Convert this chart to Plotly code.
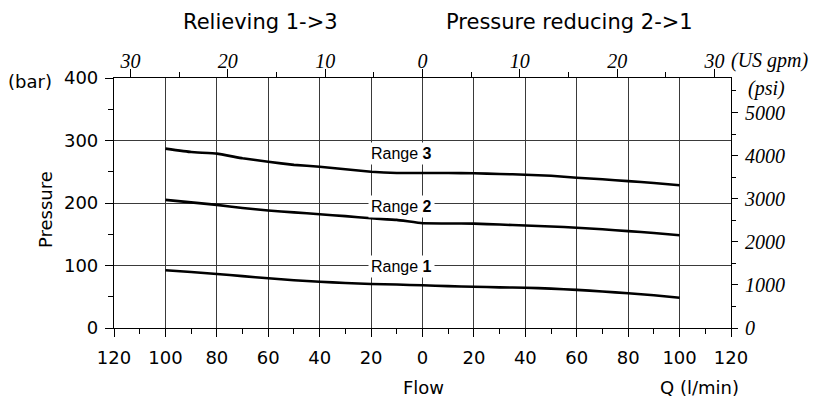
import plotly.graph_objects as go

# ---- data ----
flow = [-100, -90, -80, -70, -60, -50, -40, -30, -20, -10, 0, 10, 20, 30, 40, 50, 60, 70, 80, 90, 100]
range3 = [287, 281.5, 279, 271.5, 266, 261, 258, 254, 250, 248, 248, 248, 247.5, 246.5, 245.3, 243.5, 240.5, 238, 235, 232, 228.5]
range2 = [205, 201, 197, 192, 188, 185, 182, 179, 175.5, 173, 167.5, 167.3, 167, 165.5, 164, 162.5, 160.5, 158, 155, 152, 148.5]
range1 = [92.5, 89.5, 86.5, 83, 79.5, 76.5, 74, 72, 70.5, 69.5, 68.3, 67, 66, 65, 64.5, 63, 61, 58.5, 55.5, 52.5, 48.5]
range_names = ["1", "2", "3"]
range_label_y = [98, 195, 280]

x_ticks = [-120, -100, -80, -60, -40, -20, 0, 20, 40, 60, 80, 100, 120]
x_ticktext = ["120", "100", "80", "60", "40", "20", "0", "20", "40", "60", "80", "100", "120"]
gpm_ticks = [-30, -20, -10, 0, 10, 20, 30]
gpm_ticktext = ["30", "20", "10", "0", "10", "20", "30"]
psi_ticks = [0, 1000, 2000, 3000, 4000, 5000]
LPM_PER_GPM = 3.78541
PSI_PER_BAR = 14.5038

W, H = 829, 401
L, R, T, B = 114, 731, 78, 328

def px(xp, yp):
    return (xp - L) / (R - L), (B - yp) / (B - T)

fig = go.Figure()
for ys in (range3, range2, range1):
    fig.add_trace(go.Scatter(x=flow, y=ys, mode="lines",
                             line=dict(color="black", width=2.6, shape="spline", smoothing=0.3),
                             showlegend=False, hoverinfo="skip"))
# helper traces so the secondary axes are drawn
fig.add_trace(go.Scatter(x=[-30, 30], y=[0, 0], xaxis="x2", yaxis="y", mode="markers",
                         marker=dict(opacity=0), showlegend=False, hoverinfo="skip"))
fig.add_trace(go.Scatter(x=[0, 0], y=[0, 5000], xaxis="x", yaxis="y2", mode="markers",
                         marker=dict(opacity=0), showlegend=False, hoverinfo="skip"))

sans = "DejaVu Sans"
serif = "Liberation Serif"
grid = "#3a3a3a"

fig.update_layout(
    width=W, height=H,
    margin=dict(l=L, r=W - R, t=T, b=H - B),
    paper_bgcolor="white", plot_bgcolor="white",
    xaxis=dict(range=[-120, 120], tickmode="array", tickvals=x_ticks, ticktext=x_ticktext,
               ticks="outside", ticklen=8, tickwidth=1, tickcolor="black",
               minor=dict(tickvals=[v for v in range(-110, 120, 20)], ticks="outside", ticklen=5,
                          tickcolor="black", showgrid=False),
               showgrid=True, gridcolor=grid, gridwidth=1, zeroline=False,
               showline=True, linecolor="black", linewidth=1.2, mirror=True,
               ticklabelstandoff=5,
               tickfont=dict(family=sans, size=18, color="black")),
    xaxis2=dict(range=[-120 / LPM_PER_GPM, 120 / LPM_PER_GPM], overlaying="x", side="top", anchor="y",
                tickmode="array", tickvals=gpm_ticks, ticktext=gpm_ticktext,
                ticks="outside", ticklen=8, tickcolor="black",
                minor=dict(tickvals=[-25, -15, -5, 5, 15, 25], ticks="outside", ticklen=5, tickcolor="black"),
                showgrid=False, zeroline=False, showline=False,
                ticklabelstandoff=-7,
                tickfont=dict(family=serif, size=20, color="black", style="italic")),
    yaxis=dict(range=[0, 400], tickmode="array", tickvals=[0, 100, 200, 300, 400],
               ticks="outside", ticklen=8, tickcolor="black",
               minor=dict(tickvals=[50, 150, 250, 350], ticks="outside", ticklen=5, tickcolor="black",
                          showgrid=False),
               showgrid=True, gridcolor=grid, gridwidth=1, zeroline=False,
               showline=True, linecolor="black", linewidth=1.2, mirror=True,
               ticklabelstandoff=3,
               tickfont=dict(family=sans, size=18, color="black")),
    yaxis2=dict(range=[0, 400 * PSI_PER_BAR], overlaying="y", side="right", anchor="x",
                tickmode="array", tickvals=psi_ticks,
                ticks="outside", ticklen=6, tickcolor="black",
                minor=dict(tickvals=[500, 1500, 2500, 3500, 4500, 5500], ticks="outside", ticklen=4,
                           tickcolor="black"),
                showgrid=False, zeroline=False, showline=False,
                ticklabelstandoff=3,
                tickfont=dict(family=serif, size=20, color="black", style="italic")),
)

ann = []
def add_text(text, xp, yp, size, family=sans, xanchor="center", style="normal", angle=0):
    x, y = px(xp, yp)
    ann.append(dict(text=text, x=x, y=y, xref="paper", yref="paper", xanchor=xanchor, yanchor="middle",
                    textangle=angle, showarrow=False,
                    font=dict(family=family, size=size, color="black", style=style)))

add_text("Relieving 1-&gt;3", 260, 22, 21)
add_text("Pressure reducing 2-&gt;1", 569, 22, 21)
add_text("(bar)", 54, 81, 18, xanchor="right")
add_text("Flow", 423, 387, 18)
add_text("Q (l/min)", 699, 387, 18)
add_text("(US gpm)", 729, 61, 20, family=serif, xanchor="left", style="italic")
add_text("(psi)", 746, 88, 20, family=serif, xanchor="left", style="italic")
add_text("Pressure", 45, 210, 18, angle=-90)
for name, yv in zip(range_names, range_label_y):
    ann.append(dict(text=f"Range <b>{name}</b>", x=-8, y=yv, xref="x", yref="y", showarrow=False,
                    bgcolor="white", borderpad=2,
                    font=dict(family="Liberation Sans", size=16, color="black")))
fig.update_layout(annotations=ann)

fig.write_html("out.html", config={"displayModeBar": False},
               post_script="document.body.style.margin='0';")
